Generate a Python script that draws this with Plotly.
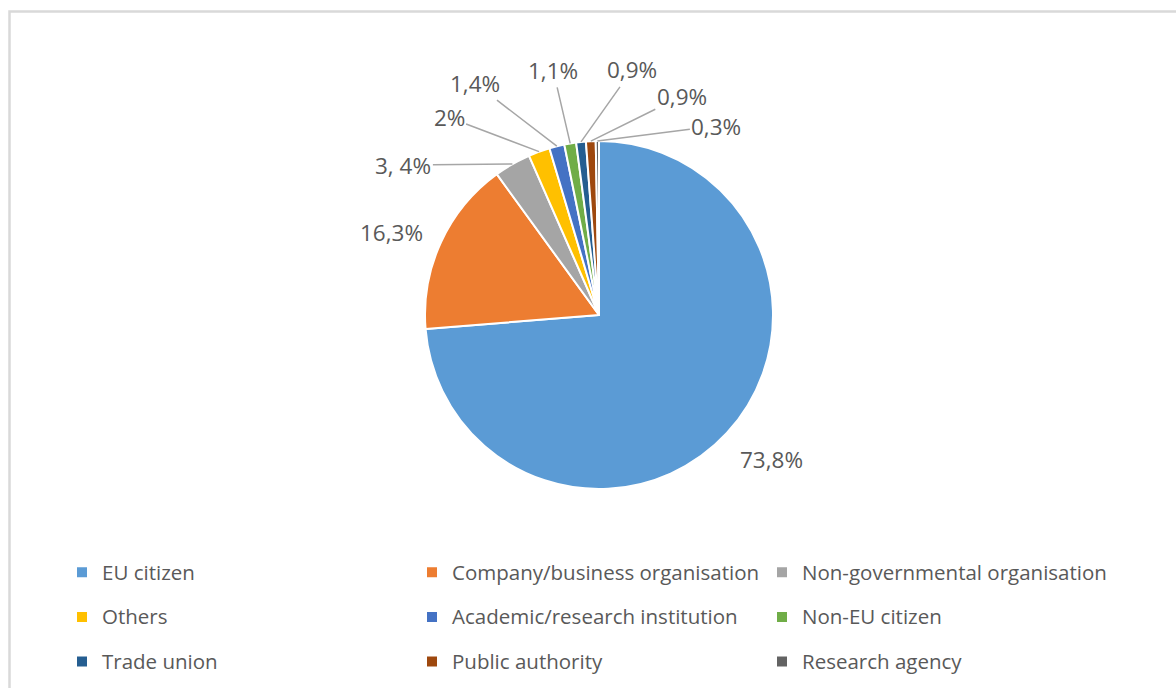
import math
import plotly.graph_objects as go

categories = ["EU citizen", "Company/business organisation", "Non-governmental organisation",
              "Others", "Academic/research institution", "Non-EU citizen",
              "Trade union", "Public authority", "Research agency"]
values = [73.8, 16.3, 3.4, 2.0, 1.4, 1.1, 0.9, 0.9, 0.3]
value_labels = ["73,8%", "16,3%", "3, 4%", "2%", "1,4%", "1,1%", "0,9%", "0,9%", "0,3%"]

colors = ["#5B9BD5", "#ED7D31", "#A5A5A5", "#FFC000", "#4472C4",
          "#70AD47", "#255E91", "#9E480E", "#636363"]

# label offsets (px) from each slice's outer mid-point, and whether a leader line is drawn
label_dx = [45, -49, -109, -90, -82, -17, 51, 91, 119]
label_dy = [26, -10, 1, -34, -63, -73, -72, -45, -15]
leader = [False, False, True, True, True, True, True, True, True]

W, H = 1176, 688
CX, CY, R = 599, 315, 174
TEXT = "#595959"
FONT = "Open Sans"

fig = go.Figure()
fig.add_trace(go.Pie(
    labels=['<span style="font-size:20.5px; baseline-shift:5px">%s</span>' % c for c in categories],
    values=values,
    sort=False,
    direction="clockwise",
    rotation=0,
    textinfo="none",
    hoverinfo="label+percent",
    marker=dict(colors=colors, line=dict(color="white", width=2)),
    domain=dict(x=[(CX - R) / W, (CX + R) / W], y=[1 - (CY + R) / H, 1 - (CY - R) / H]),
))

total = sum(values)
cum = 0.0
annotations = []
for i, v in enumerate(values):
    mid = (cum + v / 2) / total * 2 * math.pi
    cum += v
    px = CX + R * math.sin(mid)
    py = CY - R * math.cos(mid)
    annotations.append(dict(
        x=px / W, y=1 - py / H, xref="paper", yref="paper",
        text=value_labels[i], showarrow=True,
        ax=label_dx[i], ay=label_dy[i], axref="pixel", ayref="pixel",
        arrowhead=0, arrowwidth=1.5, standoff=0,
        arrowcolor="#A6A6A6" if leader[i] else "rgba(0,0,0,0)",
        font=dict(family=FONT, size=22.5, color=TEXT),
    ))

fig.update_layout(
    width=W, height=H,
    margin=dict(l=0, r=0, t=0, b=0, autoexpand=False),
    paper_bgcolor="white",
    plot_bgcolor="white",
    annotations=annotations,
    showlegend=True,
    legend=dict(
        orientation="h", x=62 / W, xanchor="left", y=1 - 545 / H, yanchor="top",
        font=dict(family=FONT, size=32, color=TEXT),
        entrywidth=305, entrywidthmode="pixels",
        itemclick=False, itemdoubleclick=False,
        bgcolor="rgba(0,0,0,0)",
    ),
    shapes=[dict(type="rect", xref="paper", yref="paper",
                 x0=9.5 / W, x1=1.05, y0=-0.05, y1=1 - 11.5 / H,
                 line=dict(color="#D9D9D9", width=2.5), layer="below")],
)

fig.write_html("out.html", config={"displayModeBar": False},
               post_script="document.body.style.margin='0';document.body.style.overflow='hidden';")
